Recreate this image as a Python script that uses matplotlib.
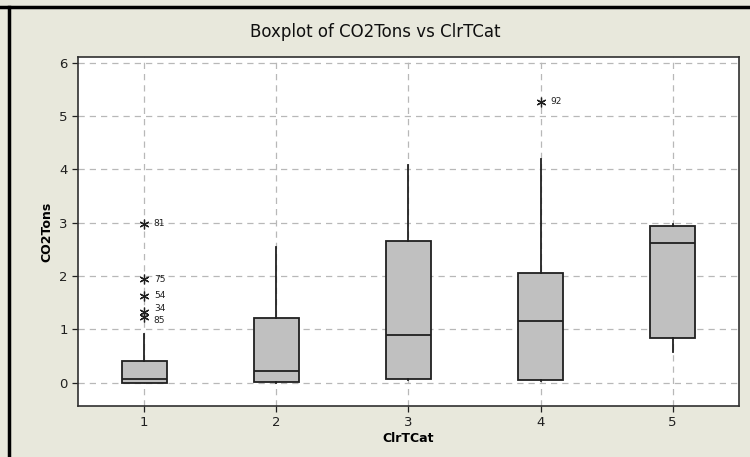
import matplotlib.pyplot as plt
from matplotlib.lines import Line2D

# Box summaries (CO2Tons per ClrTCat)
categories = [1, 2, 3, 4, 5]
whisker_low = [0.0, 0.0, 0.05, 0.03, 0.58]
q1 = [0.0, 0.015, 0.065, 0.05, 0.84]
medians = [0.065, 0.22, 0.89, 1.16, 2.61]
q3 = [0.41, 1.22, 2.65, 2.06, 2.94]
whisker_high = [0.92, 2.55, 4.09, 4.19, 2.97]

# outliers: (category, value, row label)
outlier_cat = [1, 1, 1, 1, 1, 4]
outlier_val = [2.98, 1.94, 1.63, 1.32, 1.23, 5.27]
outlier_lab = ["81", "75", "54", "34", "85", "92"]

bg = "#e8e8dc"
fig = plt.figure(figsize=(7.5, 4.57), dpi=100, facecolor=bg)
ax = fig.add_axes([0.104, 0.1116, 0.881, 0.7637])
ax.set_facecolor("white")

stats = []
for i, c in enumerate(categories):
    fl = [v for oc, v in zip(outlier_cat, outlier_val) if oc == c]
    stats.append(dict(whislo=whisker_low[i], q1=q1[i], med=medians[i],
                      q3=q3[i], whishi=whisker_high[i], fliers=fl))

ax.bxp(stats, positions=categories, widths=0.34, patch_artist=True,
       showcaps=False,
       boxprops=dict(facecolor="#c0c0c0", edgecolor="#202020", linewidth=1.3),
       medianprops=dict(color="#202020", linewidth=1.3),
       whiskerprops=dict(color="#202020", linewidth=1.3),
       flierprops=dict(marker=(6, 2, 0), markersize=7, markeredgecolor="#202020",
                       markeredgewidth=0.9, linestyle="none"))

# the 34 / 85 labels sit nearly on top of each other; nudge them apart a touch
nudge = {"34": 2.5, "85": -2.5}
for c, v, lab in zip(outlier_cat, outlier_val, outlier_lab):
    ax.annotate(lab, (c, v), xytext=(7, nudge.get(lab, 0)),
                textcoords="offset points",
                fontsize=6.5, va="center", ha="left", color="#202020")

ax.set_xlim(0.5, 5.5)
ax.set_ylim(-0.44, 6.11)
ax.set_xticks(categories)
ax.set_yticks(range(0, 7))
ax.grid(True, color="#b8b8b8", linestyle=(0, (5, 4)), linewidth=0.9)
ax.set_axisbelow(True)
ax.tick_params(labelsize=9.5, colors="#202020", length=4, width=0.9)
for s in ax.spines.values():
    s.set_color("#303030")
    s.set_linewidth(1.2)

ax.set_xlabel("ClrTCat", fontsize=9, fontweight="bold", labelpad=2)
ax.set_ylabel("CO2Tons", fontsize=9, fontweight="bold", labelpad=4)
fig.text(0.5, 0.93, "Boxplot of CO2Tons vs ClrTCat", ha="center", va="center",
         fontsize=12, color="#101010")

# window frame lines on the top and left of the original screenshot
fig.add_artist(Line2D([0, 1], [0.985, 0.985], color="black", linewidth=2.5,
                      transform=fig.transFigure))
fig.add_artist(Line2D([0.012, 0.012], [0, 0.985], color="black", linewidth=2.5,
                      transform=fig.transFigure))

fig.savefig("out.png", dpi=100, facecolor=bg)
